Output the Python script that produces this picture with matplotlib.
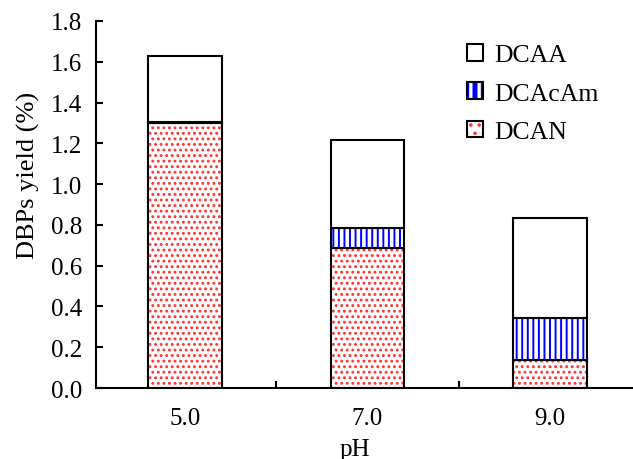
import matplotlib
matplotlib.use("Agg")
import matplotlib.pyplot as plt
import numpy as np
from matplotlib.patches import Patch

# data
ph_labels = ["5.0", "7.0", "9.0"]
dcan = [1.30, 0.685, 0.137]
dcacam = [0.005, 0.10, 0.205]
dcaa = [0.325, 0.433, 0.492]

plt.rcParams["font.family"] = ["Liberation Serif", "DejaVu Serif"]
plt.rcParams["font.size"] = 18

fig = plt.figure(figsize=(6.33, 4.60), dpi=100)
ax = fig.add_axes([0.1517, 0.1543, 0.861, 0.798])

x = np.arange(len(ph_labels))
w = 0.405
bottom2 = np.array(dcan) + np.array(dcacam)


def thick_hatch(p, hlw):
    # hatch width is taken from rcParams when the patch is drawn
    orig = p.draw

    def draw(renderer, orig=orig):
        with plt.rc_context({"hatch.linewidth": hlw}):
            orig(renderer)
    p.draw = draw
    if hasattr(p, "set_hatch_linewidth"):
        p.set_hatch_linewidth(hlw)


def hatched(ax, x, h, bottom, face, hcolor, hatch, hlw):
    with plt.rc_context({"hatch.linewidth": hlw}):
        bars = ax.bar(x, h, w, bottom=bottom, color=face, edgecolor=hcolor,
                      linewidth=0, hatch=hatch)
    for b in bars:
        thick_hatch(b, hlw)
    ax.bar(x, h, w, bottom=bottom, fill=False, edgecolor="black", linewidth=1.5)


hatched(ax, x, dcan, 0, "white", "#ff3030", "...", 1.3)
hatched(ax, x, dcacam, dcan, "#0000ff", "white", "|||", 2.6)
ax.bar(x, dcaa, w, bottom=bottom2, color="white", edgecolor="black", linewidth=1.5)

ax.set_xlim(-0.488, 2.5)
ax.set_ylim(0, 1.8)
ax.set_yticks(np.arange(0, 1.81, 0.2))
ax.set_yticklabels([f"{v:.1f}" for v in np.arange(0, 1.81, 0.2)])
ax.set_xticks(x)
ax.set_xticklabels(ph_labels)
ax.set_xticks([0.5, 1.5], minor=True)
ax.tick_params(axis="x", which="major", length=0, pad=14)
ax.tick_params(axis="x", which="minor", direction="in", length=5, width=1.5)
ax.tick_params(axis="y", direction="in", length=5, width=1.5, pad=10)

for s in ["top", "right"]:
    ax.spines[s].set_visible(False)
for s in ["left", "bottom"]:
    ax.spines[s].set_linewidth(1.5)

ax.set_xlabel("pH", labelpad=6)
ax.xaxis.label.set_x(0.475)
ax.set_ylabel("DBPs yield (%)", fontsize=19, labelpad=8)
ax.yaxis.label.set_y(0.583)

# legend handles: hatch layer + black outline
h_dcaa = Patch(facecolor="white", edgecolor="black", linewidth=1.5)
p1 = Patch(facecolor="#0000ff", edgecolor="white", hatch="||", linewidth=0)
p2 = Patch(facecolor="white", edgecolor="#ff3030", hatch="..", linewidth=0)
o1 = Patch(fill=False, edgecolor="black", linewidth=1.5)
o2 = Patch(fill=False, edgecolor="black", linewidth=1.5)
leg = ax.legend([h_dcaa, (p1, o1), (p2, o2)], ["DCAA", "DCAcAm", "DCAN"],
                loc="upper left", bbox_to_anchor=(0.638, 1.0), frameon=False,
                handlelength=0.62, handleheight=0.62, handletextpad=0.45,
                labelspacing=0.62, fontsize=18.5)
for art in leg.findobj(Patch):
    if art.get_hatch() == "||":
        thick_hatch(art, 2.4)
    elif art.get_hatch() == "..":
        thick_hatch(art, 1.3)

fig.savefig("out.png", dpi=100)
